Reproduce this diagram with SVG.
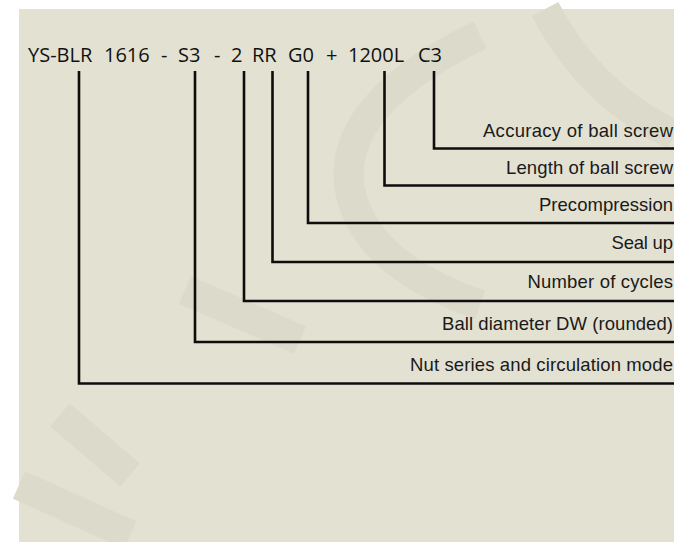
<svg xmlns="http://www.w3.org/2000/svg" width="674" height="542" viewBox="0 0 674 542">
<style>
.code{font-family:"Open Sans","Noto Sans","DejaVu Sans",sans-serif;font-size:20px;fill:#111}
.lbl{font-family:"Liberation Sans",Arial,sans-serif;font-size:18.5px;fill:#1a1a1a}
.conn{fill:none;stroke:#0d0d0d;stroke-width:2.6;stroke-linejoin:miter}
.wm{fill:none;stroke:#dcdacb;stroke-width:30;stroke-linecap:butt}
</style>
<rect x="0" y="0" width="674" height="542" fill="#ffffff"/>
<rect x="19" y="9" width="655" height="533" fill="#e3e1d2"/>
<g id="watermark">
<path class="wm" d="M545 9 Q590 95 674 135"/>
<path class="wm" d="M480 35 Q335 105 350 190 Q365 265 480 305"/>
<path class="wm" d="M185 290 L300 340"/>
<path class="wm" d="M60 415 L130 475"/>
<path class="wm" d="M19 485 L130 535"/>
</g>
<g id="code">
<text class="code" y="62"><tspan x="28">YS-BLR</tspan><tspan x="104">1616</tspan><tspan x="161">-</tspan><tspan x="178">S3</tspan><tspan x="214">-</tspan><tspan x="231">2</tspan><tspan x="252">RR</tspan><tspan x="288">G0</tspan><tspan x="326">+</tspan><tspan x="348">1200L</tspan><tspan x="418">C3</tspan></text>
</g>
<g id="connectors">
<path class="conn" d="M434 71 V148.5 H676"/>
<path class="conn" d="M384.5 71 V185.5 H676"/>
<path class="conn" d="M308 71 V223 H676"/>
<path class="conn" d="M272.5 71 V262 H676"/>
<path class="conn" d="M244 71 V301 H676"/>
<path class="conn" d="M195 71 V342 H676"/>
<path class="conn" d="M79 71 V383.5 H676"/>
</g>
<g id="label-accuracy"><text class="lbl" x="483" y="136.5" textLength="190" lengthAdjust="spacing">Accuracy of ball screw</text></g>
<g id="label-length"><text class="lbl" x="506" y="173.5" textLength="167" lengthAdjust="spacing">Length of ball screw</text></g>
<g id="label-precompression"><text class="lbl" x="539" y="211" textLength="134" lengthAdjust="spacing">Precompression</text></g>
<g id="label-seal"><text class="lbl" x="611.5" y="249" textLength="61.5" lengthAdjust="spacing">Seal up</text></g>
<g id="label-cycles"><text class="lbl" x="527.5" y="288" textLength="145.5" lengthAdjust="spacing">Number of cycles</text></g>
<g id="label-ball"><text class="lbl" x="442" y="330" textLength="231" lengthAdjust="spacing">Ball diameter DW (rounded)</text></g>
<g id="label-nut"><text class="lbl" x="410" y="371" textLength="263" lengthAdjust="spacing">Nut series and circulation mode</text></g>
</svg>
